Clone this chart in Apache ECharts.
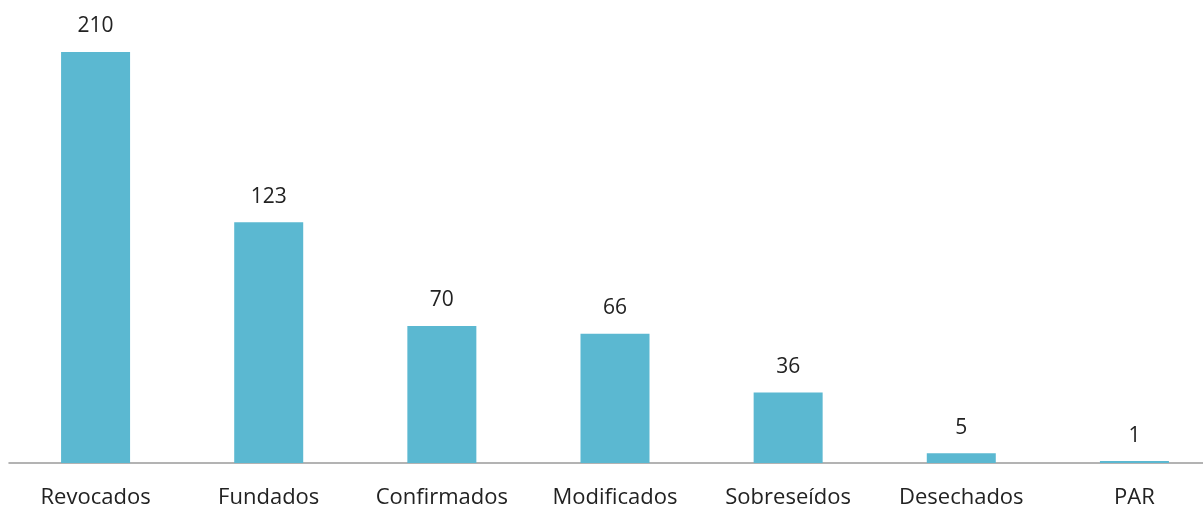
<!DOCTYPE html>
<html>
<head>
<meta charset="utf-8">
<style>
  html, body { margin: 0; padding: 0; background: #fff; }
  #main { width: 1203px; height: 510px; }
</style>
<script src="https://cdn.jsdelivr.net/npm/echarts@6/dist/echarts.min.js"></script>
</head>
<body>
<div id="main"></div>
<script>
var categories = ['Revocados', 'Fundados', 'Confirmados', 'Modificados', 'Sobreseídos', 'Desechados', 'PAR'];
var values = [210, 123, 70, 66, 36, 5, 1];

var myChart = echarts.init(document.getElementById('main'));

var option = {
  animation: false,
  grid: { left: 9, top: 52, width: 1212, bottom: 47, outerBoundsMode: 'none' },
  xAxis: {
    type: 'category',
    data: categories,
    axisLine: { lineStyle: { color: '#9a9a9a', width: 1.5 } },
    axisTick: { show: false },
    axisLabel: {
      fontFamily: 'Open Sans',
      fontSize: 22,
      color: '#222',
      margin: 24,
      interval: 0
    }
  },
  yAxis: {
    type: 'value',
    min: 0,
    max: 210,
    show: false,
    splitLine: { show: false }
  },
  series: [{
    type: 'bar',
    data: values,
    barWidth: 69,
    itemStyle: { color: '#5bb8d1' },
    label: {
      show: true,
      position: 'top',
      distance: 15,
      fontFamily: 'Open Sans',
      fontSize: 21,
      color: '#222'
    }
  }]
};

myChart.setOption(option);
</script>
</body>
</html>
